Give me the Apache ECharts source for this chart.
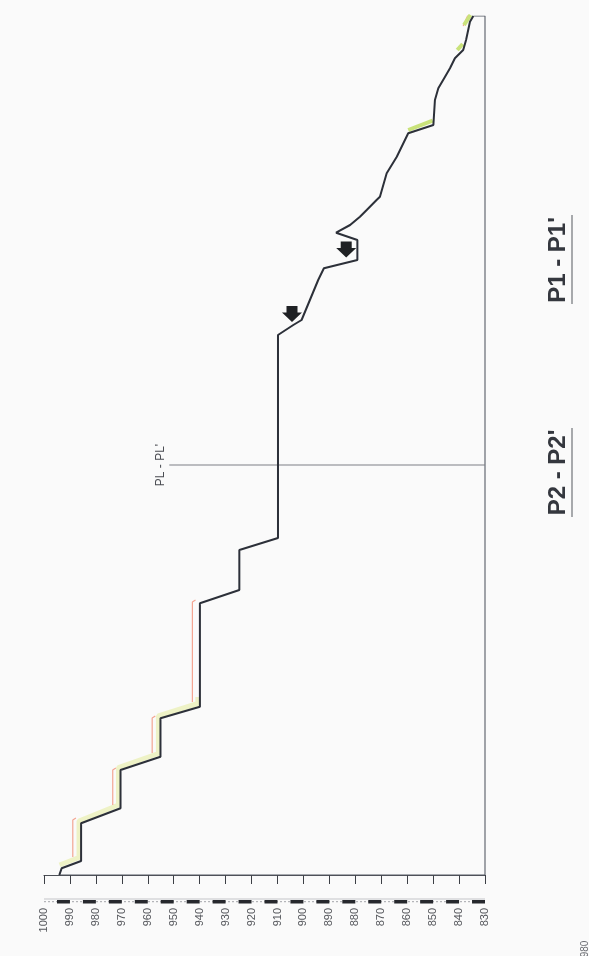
<!DOCTYPE html>
<html>
<head>
<meta charset="utf-8">
<script src="https://cdn.jsdelivr.net/npm/echarts@6/dist/echarts.min.js"></script>
<style>
  html, body { margin: 0; padding: 0; background: #fafafa; }
  #chart { width: 589px; height: 956px; }
</style>
</head>
<body>
<div id="chart"></div>
<script>
// Elevation ticks (m)
const elevTicks = [1000, 990, 980, 970, 960, 950, 940, 930, 920, 910, 900, 890, 880, 870, 860, 850, 840, 830];

// Terrain profile: [elevation, distance]
const profile = [
  [994.1, 0], [993.2, 6.7], [985.7, 14], [985.7, 51.7], [970.5, 66.7], [970.5, 105],
  [955.1, 118.3], [955.1, 156.7], [939.9, 168.3], [939.9, 271.7], [924.7, 285], [924.7, 325],
  [909.8, 337], [909.8, 540], [903.9, 550], [900.7, 555], [897.5, 575], [894.3, 595],
  [892.1, 606.7], [879.2, 615], [879.2, 635], [887.4, 642.3], [886.9, 644.3], [882.0, 650],
  [878.2, 658.3], [875.6, 665], [871.8, 675], [870.5, 678.3], [867.9, 701.7], [864.0, 718.3],
  [859.6, 741.7], [849.9, 750], [849.3, 775], [848.0, 786.7], [845.4, 798.3], [843.5, 806.7],
  [841.6, 816.7], [838.4, 825], [837.3, 835], [835.8, 853.3], [834.5, 859]
];

// Closing frame of the section (baseline 830 m and end verticals)
const frame = [[834.5, 859], [830, 859], [830, 0], [994.1, 0]];

// Section line PL - PL'
const plLine = [[951.7, 410], [830, 410]];

// Pale yellow band along the first steps
const yellowBand = [
  [994.0, 10], [986.5, 17.5], [986.5, 54], [971.3, 70], [971.3, 107.5],
  [955.9, 121.5], [955.9, 159], [940.7, 171.5], [940.7, 178]
];

// Thin orange lines beside the first steps
const orangeSegs = [
  [[988.9, 18], [988.9, 55], [987.7, 57]],
  [[973.5, 70], [973.5, 105], [972.3, 107]],
  [[958.3, 122], [958.3, 157], [957.1, 159]],
  [[942.8, 173], [942.8, 273], [941.6, 275]],
  [[838.4, 849], [836.4, 861]]
];

// Green highlights near the end of the profile
const greenSegs = [
  [[859.6, 745], [850.2, 754.3]],
  [[840.7, 825], [838.6, 831]],
  [[838.1, 850], [835.6, 860]]
];

// Arrows (elevation, distance)
const arrows = [[904.4, 561], [883.5, 625.5]];

const chart = echarts.init(document.getElementById('chart'));

const lineBase = { type: 'line', symbol: 'none', silent: true, animation: false, z: 2 };

const series = [];

series.push(Object.assign({}, lineBase, {
  data: yellowBand, lineStyle: { color: '#eef2c6', width: 5 }, z: 1
}));
orangeSegs.forEach(s => series.push(Object.assign({}, lineBase, {
  data: s, lineStyle: { color: '#f3a592', width: 1.2 }, z: 1
})));
greenSegs.forEach(s => series.push(Object.assign({}, lineBase, {
  data: s, lineStyle: { color: '#c9e27a', width: 4 }, z: 1
})));
series.push(Object.assign({}, lineBase, {
  data: frame, lineStyle: { color: '#555a64', width: 1.1 }
}));
series.push(Object.assign({}, lineBase, {
  data: profile, lineStyle: { color: '#2c3039', width: 2 }, z: 3
}));
series.push({
  type: 'line', silent: true, animation: false, z: 2,
  symbol: 'circle', symbolSize: 1, showSymbol: true,
  itemStyle: { color: 'rgba(0,0,0,0)' },
  lineStyle: { color: '#7d7f85', width: 1 },
  data: plLine.map((p, i) => i === 0 ? {
    value: p,
    label: {
      show: true, formatter: "PL - PL'", position: 'left', distance: 2,
      rotate: 90, align: 'center', verticalAlign: 'bottom',
      fontSize: 12, color: '#4a4c52', fontFamily: 'Liberation Sans, Arial, sans-serif'
    }
  } : { value: p })
});
series.push({
  type: 'scatter', silent: true, animation: false, z: 4,
  symbol: 'path://M4.5,0L15.5,0L15.5,6.5L20,6.5L10,16L0,6.5L4.5,6.5Z',
  symbolSize: [20, 16],
  itemStyle: { color: '#1f2124', opacity: 1 },
  data: arrows
});
// Scale bar blocks on the elevation axis
series.push({
  type: 'custom', silent: true, animation: false, clip: false, z: 5,
  data: elevTicks.slice(1).map(t => [t + 5, t]),
  renderItem: function (params, api) {
    const a = api.coord([api.value(0), 0]);
    const b = api.coord([api.value(1), 0]);
    const a0 = api.coord([1000, 0]);
    const b0 = api.coord([830, 0]);
    const y = a[1] + 25;
    const children = [];
    if (params.dataIndex === 0) {
      children.push({
        type: 'line',
        shape: { x1: a0[0], y1: y + 1.7, x2: b0[0], y2: y + 1.7 },
        style: { stroke: '#a4a6ab', lineWidth: 1, lineDash: [2, 2] }
      });
      children.push({
        type: 'line',
        shape: { x1: a0[0], y1: y - 1, x2: b0[0], y2: y - 1 },
        style: { stroke: '#c4c5c9', lineWidth: 1 }
      });
    }
    children.push({
      type: 'rect',
      shape: { x: Math.min(a[0], b[0]), y: y, width: Math.abs(b[0] - a[0]), height: 3.5 },
      style: { fill: '#26282d' }
    });
    return { type: 'group', children: children };
  }
});

chart.setOption({
  backgroundColor: '#fafafa',
  animation: false,
  grid: { left: 44, right: 104, top: 16, bottom: 81, containLabel: false },
  xAxis: {
    type: 'value', min: 830, max: 1000, interval: 10, inverse: true,
    position: 'bottom', offset: 21,
    axisLine: { show: true, lineStyle: { color: '#4c4f56', width: 1.2 } },
    axisTick: { show: true, length: 9, lineStyle: { color: '#3c3f45', width: 1 } },
    axisLabel: {
      rotate: 90, margin: 12, fontSize: 11, color: '#55575c',
      fontFamily: 'Liberation Sans, Arial, sans-serif',
      formatter: v => String(v)
    },
    splitLine: { show: false }
  },
  yAxis: {
    type: 'value', min: 0, max: 859, show: false,
    splitLine: { show: false }
  },
  graphic: [
    {
      type: 'text', x: 558.5, y: 260, rotation: Math.PI / 2,
      style: {
        text: "P1 - P1'", fontSize: 24, fontWeight: 'bold', fill: '#34373e',
        fontFamily: 'Liberation Sans, Arial, sans-serif', align: 'center', verticalAlign: 'middle'
      }
    },
    { type: 'line', shape: { x1: 572, y1: 215, x2: 572, y2: 304 }, style: { stroke: '#55585e', lineWidth: 1 } },
    {
      type: 'text', x: 558.5, y: 472.5, rotation: Math.PI / 2,
      style: {
        text: "P2 - P2'", fontSize: 24, fontWeight: 'bold', fill: '#34373e',
        fontFamily: 'Liberation Sans, Arial, sans-serif', align: 'center', verticalAlign: 'middle'
      }
    },
    { type: 'line', shape: { x1: 572, y1: 428, x2: 572, y2: 517 }, style: { stroke: '#55585e', lineWidth: 1 } },
    {
      type: 'text', x: 585, y: 949, rotation: Math.PI / 2,
      style: {
        text: '980', fontSize: 10, fill: '#6a6c72',
        fontFamily: 'Liberation Sans, Arial, sans-serif', align: 'center', verticalAlign: 'middle'
      }
    }
  ],
  series: series
});
</script>
</body>
</html>
